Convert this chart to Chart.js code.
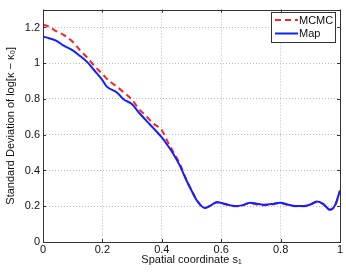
<!DOCTYPE html>
<html><head><meta charset="utf-8">
<script src="https://cdn.jsdelivr.net/npm/chart.js@4/dist/chart.umd.min.js"></script>
<style>html,body{margin:0;padding:0;background:#fff}#w{width:346px;height:274px}</style>
</head><body><div id="w"><canvas id="c" width="346" height="274"></canvas></div>
<script>
const xs = [0,0.02,0.044,0.068,0.1,0.125,0.15,0.17,0.2,0.215,0.25,0.27,0.3,0.32,0.35,0.37,0.4,0.42,0.44,0.46,0.48,0.5,0.52,0.545,0.565,0.585,0.615,0.646,0.67,0.697,0.72,0.742,0.77,0.798,0.823,0.848,0.876,0.9,0.921,0.943,0.966,0.983,1.0];
const mapVals = [1.149,1.14,1.127,1.10,1.072,1.04,1.005,0.965,0.906,0.869,0.835,0.80,0.77,0.73,0.675,0.64,0.585,0.54,0.49,0.43,0.355,0.288,0.228,0.19,0.205,0.223,0.212,0.201,0.205,0.22,0.214,0.209,0.212,0.22,0.21,0.201,0.201,0.21,0.227,0.214,0.181,0.205,0.288];
const mcmcVals = [1.216,1.205,1.18,1.16,1.12,1.072,1.03,0.99,0.94,0.913,0.867,0.84,0.795,0.75,0.70,0.665,0.625,0.56,0.5,0.44,0.36,0.29,0.228,0.19,0.205,0.222,0.21,0.2,0.203,0.218,0.21,0.205,0.21,0.218,0.208,0.2,0.2,0.208,0.223,0.212,0.18,0.2,0.285];
const xTicks = [0,0.2,0.4,0.6,0.8,1];
const yTicks = [0,0.2,0.4,0.6,0.8,1,1.2];
const labels = ['MCMC','Map'];
const xTitle = 'Spatial coordinate s\u2081';
const yTitle = 'Standard Deviation of log[\u03BA \u2212 \u03BA\u2080]';

const FONT = 'Liberation Sans, Arial, sans-serif';
const pts = v => xs.map((x,i)=>({x, y:v[i]}));

const boxPlugin = {
  id:'box',
  afterDatasetsDraw(chart){
    const {ctx, chartArea:a} = chart;
    ctx.save();
    ctx.strokeStyle = '#333'; ctx.lineWidth = 1;
    ctx.strokeRect(Math.round(a.left)+0.5, Math.round(a.top)+0.5, Math.round(a.right-a.left), Math.round(a.bottom-a.top));
    const xs_ = chart.scales.x, ys_ = chart.scales.y;
    ctx.beginPath();
    xTicks.forEach(t=>{const p=Math.round(xs_.getPixelForValue(t))+0.5; ctx.moveTo(p,a.bottom); ctx.lineTo(p,a.bottom-3); ctx.moveTo(p,a.top); ctx.lineTo(p,a.top+3);});
    yTicks.forEach(t=>{const p=Math.round(ys_.getPixelForValue(t))+0.5; ctx.moveTo(a.left,p); ctx.lineTo(a.left+3,p); ctx.moveTo(a.right,p); ctx.lineTo(a.right-3,p);});
    ctx.stroke();
    const lx=271, ly=12, lw=64, lh=30;
    ctx.fillStyle='#fff'; ctx.fillRect(lx,ly,lw,lh);
    ctx.strokeStyle='#333'; ctx.strokeRect(lx+0.5,ly+0.5,lw,lh);
    const ds = chart.data.datasets;
    [0,1].forEach(i=>{
      const d = ds.find(q=>q.label===labels[i]);
      const yy = ly + 8 + i*13.5;
      ctx.beginPath(); ctx.strokeStyle=d.borderColor; ctx.lineWidth=2;
      ctx.setLineDash(d.borderDash||[]);
      ctx.moveTo(lx+4,yy); ctx.lineTo(lx+27,yy); ctx.stroke();
      ctx.setLineDash([]);
      ctx.fillStyle='#111'; ctx.font='11px '+FONT; ctx.textBaseline='middle';
      ctx.fillText(labels[i], lx+28, yy+0.5);
    });
    ctx.restore();
  }
};

new Chart(document.getElementById('c'), {
  type:'line',
  data:{datasets:[
    {label:labels[0], data:pts(mcmcVals), borderColor:'#ff2020', borderWidth:2, borderDash:[6,4], pointRadius:0, cubicInterpolationMode:'monotone', order:1, fill:false},
    {label:labels[1], data:pts(mapVals), borderColor:'#1020ff', borderWidth:2, pointRadius:0, cubicInterpolationMode:'monotone', order:0, fill:false}
  ]},
  options:{
    responsive:false, animation:false, devicePixelRatio:1,
    layout:{padding:{top:7,right:6,left:4,bottom:7}},
    plugins:{legend:{display:false}, tooltip:{enabled:false}},
    scales:{
      x:{type:'linear', min:0, max:1,
        afterBuildTicks(s){s.ticks = xTicks.map(v=>({value:v}));},
        afterFit(s){s.height=25;},
        ticks:{color:'#111', font:{family:FONT,size:11}, padding:1, maxRotation:0, callback:v=>String(+v.toFixed(1))},
        grid:{color:'#bdbdbd', lineWidth:1, drawTicks:false, tickLength:0},
        border:{display:false, dash:[1,2]},
        title:{display:true, text:xTitle, color:'#111', font:{family:FONT,size:11}, padding:{top:0,bottom:0}}
      },
      y:{type:'linear', min:0, max:1.3,
        afterBuildTicks(s){s.ticks = yTicks.map(v=>({value:v}));},
        afterFit(s){s.width=39;},
        ticks:{color:'#111', font:{family:FONT,size:11}, padding:3, callback:v=>String(+v.toFixed(1))},
        grid:{color:'#bdbdbd', lineWidth:1, drawTicks:false, tickLength:0},
        border:{display:false, dash:[1,2]},
        title:{display:true, text:yTitle, color:'#111', font:{family:FONT,size:11}, padding:{top:0,bottom:2}}
      }
    }
  },
  plugins:[boxPlugin]
});
</script></body></html>
